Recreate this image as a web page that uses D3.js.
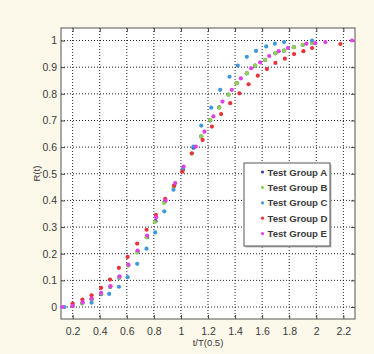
<!DOCTYPE html>
<html>
<head>
<meta charset="utf-8">
<script src="https://cdn.jsdelivr.net/npm/d3@7"></script>
<style>
  html, body { margin: 0; padding: 0; background: #fcf8ea; }
  svg { display: block; }
  text { font-family: "Liberation Sans", Arial, sans-serif; fill: #3a3a3a; }
</style>
</head>
<body>
<div id="chart"></div>
<script>
const xTicks = [0.2, 0.4, 0.6, 0.8, 1, 1.2, 1.4, 1.6, 1.8, 2, 2.2];
const yTicks = [0, 0.1, 0.2, 0.3, 0.4, 0.5, 0.6, 0.7, 0.8, 0.9, 1];
const groupNames = ["Test Group A", "Test Group B", "Test Group C", "Test Group D", "Test Group E"];
const groupColors = ["#3d3d9c", "#8fd454", "#3f98dc", "#e8323c", "#e040e6"];

const xA = [0.2, 0.27, 0.34, 0.41, 0.476, 0.544, 0.61, 0.68, 0.75, 0.812, 0.88, 0.95, 1.015, 1.093, 1.15, 1.216, 1.283, 1.351, 1.413, 1.487, 1.548, 1.622, 1.698, 1.762, 1.834, 1.9, 1.97];
const yA = [0.004, 0.014, 0.028, 0.048, 0.075, 0.11, 0.157, 0.207, 0.262, 0.322, 0.395, 0.455, 0.515, 0.598, 0.64, 0.7, 0.749, 0.797, 0.84, 0.877, 0.906, 0.927, 0.952, 0.962, 0.975, 0.984, 0.99];

const xB = [0.2, 0.27, 0.34, 0.41, 0.476, 0.544, 0.61, 0.675, 0.745, 0.807, 0.874, 0.945, 1.01, 1.08, 1.15, 1.216, 1.283, 1.351, 1.413, 1.487, 1.548, 1.622, 1.698, 1.762, 1.834, 1.9, 1.97];
const yB = [0.006, 0.015, 0.03, 0.05, 0.076, 0.112, 0.155, 0.205, 0.262, 0.319, 0.39, 0.45, 0.51, 0.575, 0.64, 0.702, 0.748, 0.796, 0.84, 0.877, 0.906, 0.927, 0.953, 0.962, 0.975, 0.984, 0.99];

const xC = [0.14, 0.34, 0.47, 0.542, 0.606, 0.677, 0.746, 0.81, 0.877, 0.945, 1.015, 1.093, 1.15, 1.224, 1.29, 1.359, 1.42, 1.487, 1.555, 1.63, 1.694, 1.762, 1.969];
const yC = [0, 0.016, 0.049, 0.076, 0.112, 0.162, 0.219, 0.28, 0.359, 0.44, 0.52, 0.602, 0.681, 0.748, 0.815, 0.864, 0.906, 0.939, 0.961, 0.978, 0.988, 0.994, 1.0];

const xD = [0.2, 0.272, 0.34, 0.41, 0.476, 0.542, 0.606, 0.677, 0.746, 0.815, 0.884, 0.95, 1.01, 1.08, 1.16, 1.229, 1.297, 1.364, 1.432, 1.5, 1.568, 1.635, 1.698, 1.768, 1.836, 1.905, 1.969, 2.178];
const yD = [0.013, 0.028, 0.044, 0.072, 0.103, 0.147, 0.188, 0.238, 0.29, 0.346, 0.406, 0.455, 0.508, 0.577, 0.627, 0.677, 0.724, 0.765, 0.802, 0.836, 0.868, 0.893, 0.916, 0.932, 0.949, 0.96, 0.972, 0.987];

const xE = [0.124, 0.2, 0.275, 0.34, 0.41, 0.48, 0.547, 0.612, 0.68, 0.75, 0.817, 0.887, 0.958, 1.02, 1.11, 1.174, 1.24, 1.307, 1.376, 1.443, 1.519, 1.585, 1.652, 1.723, 1.79, 1.927, 1.993, 2.067, 2.264];
const yE = [0, 0.004, 0.018, 0.032, 0.053, 0.078, 0.115, 0.159, 0.212, 0.268, 0.337, 0.4, 0.465, 0.527, 0.602, 0.658, 0.715, 0.771, 0.815, 0.858, 0.896, 0.918, 0.942, 0.96, 0.972, 0.988, 0.99, 0.994, 1.0];

const seriesX = [xA, xB, xC, xD, xE];
const seriesY = [yA, yB, yC, yD, yE];

const width = 374, height = 354;
const margin = {top: 28, right: 19, bottom: 35, left: 61};
const innerW = width - margin.left - margin.right;
const innerH = height - margin.top - margin.bottom;

const svg = d3.select("#chart").append("svg")
    .attr("width", width)
    .attr("height", height);

const g = svg.append("g")
    .attr("transform", `translate(${margin.left},${margin.top})`);

const x = d3.scaleLinear().domain([0.114, 2.286]).range([0, innerW]);
const y = d3.scaleLinear().domain([-0.045, 1.047]).range([innerH, 0]);

g.append("rect")
    .attr("width", innerW)
    .attr("height", innerH)
    .attr("fill", "#ffffff");

// dotted grid
g.selectAll(".gx").data(xTicks).enter().append("line")
    .attr("x1", d => x(d)).attr("x2", d => x(d))
    .attr("y1", 0).attr("y2", innerH)
    .attr("stroke", "#222").attr("stroke-width", 1)
    .attr("stroke-dasharray", "1,2");
g.selectAll(".gy").data(yTicks).enter().append("line")
    .attr("x1", 0).attr("x2", innerW)
    .attr("y1", d => y(d)).attr("y2", d => y(d))
    .attr("stroke", "#222").attr("stroke-width", 1)
    .attr("stroke-dasharray", "1,2");

// axes, ticks inside
const xAxis = g.append("g")
    .attr("transform", `translate(0,${innerH})`)
    .call(d3.axisBottom(x).tickValues(xTicks).tickFormat(d3.format("")).tickSizeInner(-4).tickSizeOuter(0).tickPadding(9));
const yAxis = g.append("g")
    .call(d3.axisLeft(y).tickValues(yTicks).tickFormat(d3.format("")).tickSizeInner(-4).tickSizeOuter(0).tickPadding(4));
g.append("g")
    .call(d3.axisTop(x).tickValues(xTicks).tickFormat("").tickSizeInner(-4).tickSizeOuter(0));
g.append("g")
    .attr("transform", `translate(${innerW},0)`)
    .call(d3.axisRight(y).tickValues(yTicks).tickFormat("").tickSizeInner(-4).tickSizeOuter(0));

g.selectAll(".domain").remove();
g.selectAll(".tick line").attr("stroke", "#444");
xAxis.selectAll("text").attr("font-size", "10.5px").attr("fill", "#3a3a3a");
yAxis.selectAll("text").attr("font-size", "10.5px").attr("fill", "#3a3a3a");

g.append("rect")
    .attr("width", innerW)
    .attr("height", innerH)
    .attr("fill", "none")
    .attr("stroke", "#555")
    .attr("stroke-width", 1);

// points
seriesX.forEach((xs, si) => {
  const pts = xs.map((v, i) => ({x: v, y: seriesY[si][i]}));
  g.append("g").selectAll("circle").data(pts).enter().append("circle")
      .attr("cx", d => x(d.x))
      .attr("cy", d => y(d.y))
      .attr("r", 2.1)
      .attr("fill", groupColors[si]);
});

// axis titles
svg.append("text")
    .attr("x", margin.left + innerW / 2)
    .attr("y", 346)
    .attr("text-anchor", "middle")
    .attr("font-size", "9.5px")
    .text("t/T(0.5)");
svg.append("text")
    .attr("transform", `translate(40,${margin.top + innerH / 2}) rotate(-90)`)
    .attr("text-anchor", "middle")
    .attr("font-size", "9.5px")
    .text("R(t)");

// legend
const lg = svg.append("g").attr("transform", "translate(244,163)");
lg.append("rect")
    .attr("x", 1.5).attr("y", 1.5)
    .attr("width", 86).attr("height", 83)
    .attr("fill", "#bbb");
lg.append("rect")
    .attr("width", 86).attr("height", 83)
    .attr("fill", "#fff")
    .attr("stroke", "#555");
groupNames.forEach((name, i) => {
  const ry = 9 + i * 15.4;
  lg.append("circle")
      .attr("cx", 18.5).attr("cy", ry)
      .attr("r", 1.6)
      .attr("fill", groupColors[i]);
  lg.append("text")
      .attr("x", 23.5).attr("y", ry + 3.5)
      .attr("font-size", "9.6px")
      .attr("font-weight", "bold")
      .attr("fill", "#333")
      .text(name);
});
</script>
</body>
</html>
